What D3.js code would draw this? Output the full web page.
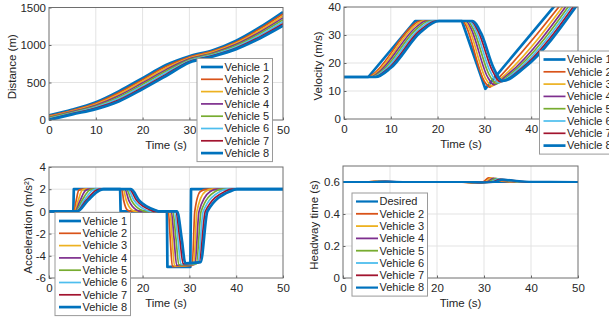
<!DOCTYPE html>
<html>
<head>
<meta charset="utf-8">
<script src="https://cdn.jsdelivr.net/npm/d3@7"></script>
<style>
  body { margin: 0; background: #fff; }
  text { font-family: "Liberation Sans", Arial, sans-serif; fill: #262626; }
</style>
</head>
<body>
<div id="root"></div>
<script>
// Colores por defecto de MATLAB (el 8º vuelve al azul)
const colors = ["#0072BD", "#D95319", "#EDB120", "#7E2F8E", "#77AC30", "#4DBEEE", "#A2142F", "#0072BD"];
const vehicleNames = ["Vehicle 1", "Vehicle 2", "Vehicle 3", "Vehicle 4", "Vehicle 5", "Vehicle 6", "Vehicle 7", "Vehicle 8"];
const headwayNames = ["Desired", "Vehicle 2", "Vehicle 3", "Vehicle 4", "Vehicle 5", "Vehicle 6", "Vehicle 7", "Vehicle 8"];

const timeTicks = [0, 10, 20, 30, 40, 50];
const distTicks = [0, 500, 1000, 1500];
const velTicks = [0, 10, 20, 30, 40];
const accTicks = [-6, -4, -2, 0, 2, 4];
const headTicks = [0, 0.2, 0.4, 0.6];

// Distancia (m), muestreada cada 5 s
const distTime = [0, 5, 10, 15, 20, 25, 30, 35, 40, 45, 50];
const distance = [
  [63, 138, 236, 384, 559, 734, 851, 930, 1057, 1234, 1440],
  [54, 129, 223, 365, 538, 713, 839, 918, 1041, 1213, 1414],
  [45, 120, 210, 346, 517, 692, 827, 906, 1025, 1192, 1388],
  [36, 111, 197, 327, 496, 671, 815, 894, 1009, 1171, 1362],
  [27, 102, 184, 308, 475, 650, 803, 882, 993, 1150, 1336],
  [18, 93, 171, 289, 454, 629, 791, 870, 977, 1129, 1310],
  [9, 84, 158, 270, 433, 608, 779, 858, 961, 1108, 1284],
  [0, 75, 145, 251, 412, 587, 767, 846, 945, 1087, 1258]
];

// Velocidad (m/s): pares [t, v] por vehículo
const velocity = [
  [[0,15],[5.2,15],[15.2,35],[25.2,35],[30.2,10.8],[50,50.4]],
  [[0,15],[5.25,15],[6.05,15.8],[15.2,34.1],[16.1,35],[25.43,35],[25.87,33.91],[30.02,13.38],[31.15,11.4],[32.35,13.44],[50,48.74]],
  [[0,15],[5.5,15],[6.7,16.2],[15.4,33.6],[16.8,35],[25.76,35],[26.44,33.33],[30.33,14.25],[31.6,11.8],[33.4,14.28],[50,47.48]],
  [[0,15],[5.75,15],[7.35,16.6],[15.6,33.1],[17.5,35],[26.09,35],[27.01,32.77],[30.65,15.11],[32.05,12.2],[34.45,15.12],[50,46.22]],
  [[0,15],[6.0,15],[8.0,17],[15.8,32.6],[18.2,35],[26.42,35],[27.58,32.22],[30.97,15.96],[32.5,12.6],[35.5,15.96],[50,44.96]],
  [[0,15],[6.25,15],[8.65,17.4],[16.0,32.1],[18.9,35],[26.75,35],[28.15,31.68],[31.28,16.8],[32.95,13.0],[36.55,16.8],[50,43.7]],
  [[0,15],[6.5,15],[9.3,17.8],[16.2,31.6],[19.6,35],[27.08,35],[28.72,31.15],[31.62,17.53],[33.4,13.3],[37.6,17.64],[50,42.44]],
  [[0,15],[6.75,15],[9.95,18.2],[16.4,31.1],[20.3,35],[27.41,35],[29.29,30.63],[31.95,18.25],[33.85,13.6],[38.65,18.48],[50,41.18]]
];

// Aceleración (m/s²): pares [t, a]
const acceleration = [
  [[0,0],[5.2,0],[5.3,2],[15.2,2],[15.3,0],[25.2,0],[25.3,-5],[30.2,-5],[30.35,2],[50,2]],
  [[0,0],[5.32,0],[5.82,1],[6.35,1.9],[7.15,2],[15.53,2],[15.95,1],[16.8,0.1],[17.6,0],[25.51,0],[25.91,-2.5],[26.36,-4.97],[30.6,-4.87],[31.15,0],[32.35,1.8],[33.85,2],[50,2]],
  [[0,0],[5.44,0],[6.24,1],[7.1,1.9],[7.9,2],[15.86,2],[16.5,1],[17.8,0.1],[18.6,0],[25.82,0],[26.32,-2.5],[26.82,-4.92],[30.9,-4.82],[31.6,0],[33.4,1.8],[34.9,2],[50,2]],
  [[0,0],[5.56,0],[6.66,1],[7.85,1.9],[8.65,2],[16.19,2],[17.05,1],[18.8,0.1],[19.6,0],[26.13,0],[26.73,-2.5],[27.28,-4.87],[31.2,-4.77],[32.05,0],[34.45,1.8],[35.95,2],[50,2]],
  [[0,0],[5.68,0],[7.08,1],[8.6,1.9],[9.4,2],[16.52,2],[17.6,1],[19.8,0.1],[20.6,0],[26.44,0],[27.14,-2.5],[27.74,-4.82],[31.5,-4.72],[32.5,0],[35.5,1.8],[37,2],[50,2]],
  [[0,0],[5.8,0],[7.5,1],[9.35,1.9],[10.15,2],[16.85,2],[18.15,1],[20.8,0.1],[21.6,0],[26.75,0],[27.55,-2.5],[28.2,-4.77],[31.8,-4.67],[32.95,0],[36.55,1.8],[38.05,2],[50,2]],
  [[0,0],[5.92,0],[7.92,1],[10.1,1.9],[10.9,2],[17.18,2],[18.7,1],[21.8,0.1],[22.6,0],[27.06,0],[27.96,-2.5],[28.66,-4.72],[32.1,-4.62],[33.4,0],[37.6,1.8],[39.1,2],[50,2]],
  [[0,0],[6.04,0],[8.34,1],[10.85,1.9],[11.65,2],[17.51,2],[19.25,1],[22.8,0.1],[23.6,0],[27.37,0],[28.37,-2.5],[29.12,-4.67],[32.4,-4.57],[33.85,0],[38.65,1.8],[40.15,2],[50,2]]
];

// Tiempo de separación (s): deseado + vehículos 2..8
const headway = [
  [[0,0.6],[50,0.6]],
  [[0,.6],[5.3,.6],[6.5,.604],[8.5,.6],[25.3,.6],[27.2,.595],[29.8,.6],[31,.626],[32.8,.61],[36,.601],[50,.6]],
  [[0,.6],[5.6,.6],[7,.604],[9.2,.6],[25.6,.6],[27.6,.595],[30.2,.6],[31.5,.624],[33.4,.61],[36.6,.601],[50,.6]],
  [[0,.6],[5.9,.6],[7.5,.604],[9.9,.6],[25.9,.6],[28,.596],[30.6,.6],[32,.623],[34,.611],[37.2,.601],[50,.6]],
  [[0,.6],[6.2,.6],[8,.603],[10.6,.6],[26.2,.6],[28.4,.596],[31,.6],[32.5,.621],[34.6,.611],[37.8,.601],[50,.6]],
  [[0,.6],[6.5,.6],[8.5,.603],[11.3,.6],[26.5,.6],[28.8,.597],[31.4,.6],[33,.619],[35.2,.611],[38.4,.601],[50,.6]],
  [[0,.6],[6.8,.6],[9,.603],[12,.6],[26.8,.6],[29.2,.597],[31.8,.6],[33.5,.617],[35.8,.61],[39,.601],[50,.6]],
  [[0,.6],[7.1,.6],[9.5,.602],[12.7,.6],[27.1,.6],[29.6,.598],[32.2,.6],[34,.615],[36.4,.609],[39.6,.601],[50,.6]]
];

const width = 609;
const height = 320;

const svg = d3.select("#root")
  .append("svg")
    .attr("width", width)
    .attr("height", height);

const panels = [
  { id: "dist", left: 49, right: 283, top: 7.5, bottom: 120, yDomain: [0, 1500], yTicks: distTicks,
    ylabel: "Distance (m)", ylabelX: 12, names: vehicleNames,
    series: distance.map(vals => vals.map((v, i) => [distTime[i], v])),
    legend: { x: 197, y: 58.5 } },
  { id: "vel", left: 344, right: 578, top: 7, bottom: 119, yDomain: [0, 40], yTicks: velTicks,
    ylabel: "Velocity (m/s)", ylabelX: 318, names: vehicleNames, series: velocity,
    legend: { x: 539.5, y: 51 } },
  { id: "acc", left: 49, right: 283, top: 167, bottom: 278, yDomain: [-6, 4], yTicks: accTicks,
    ylabel: "Acceleration (m/s²)", ylabelX: 28, names: vehicleNames, series: acceleration,
    legend: { x: 55, y: 212.5 } },
  { id: "head", left: 343, right: 578, top: 166, bottom: 278, yDomain: [0, 0.7], yTicks: headTicks,
    ylabel: "Headway time (s)", ylabelX: 314, names: headwayNames, series: headway,
    legend: { x: 352, y: 193 } }
];

panels.forEach(drawPanel);

function drawPanel(p) {
  const x = d3.scaleLinear().domain([0, 50]).range([p.left, p.right]);
  const y = d3.scaleLinear().domain(p.yDomain).range([p.bottom, p.top]);
  const g = svg.append("g");

  // rejilla
  g.append("g").selectAll("line")
    .data(timeTicks.slice(1, -1))
    .join("line")
      .attr("x1", d => x(d)).attr("x2", d => x(d))
      .attr("y1", p.top).attr("y2", p.bottom)
      .attr("stroke", "#e3e3e3");
  g.append("g").selectAll("line")
    .data(p.yTicks.filter(d => y(d) < p.bottom - 1 && y(d) > p.top + 1))
    .join("line")
      .attr("x1", p.left).attr("x2", p.right)
      .attr("y1", d => y(d)).attr("y2", d => y(d))
      .attr("stroke", "#e3e3e3");

  // ejes
  const xAxis = g.append("g")
    .attr("transform", `translate(0, ${p.bottom})`)
    .call(d3.axisBottom(x).tickValues(timeTicks).tickFormat(d => d).tickSizeInner(-2.5).tickSizeOuter(0).tickPadding(5.5));
  const yAxis = g.append("g")
    .attr("transform", `translate(${p.left}, 0)`)
    .call(d3.axisLeft(y).tickValues(p.yTicks).tickFormat(d => d).tickSizeInner(-2.5).tickSizeOuter(0).tickPadding(3));
  [xAxis, yAxis].forEach(a => {
    a.select(".domain").remove();
    a.selectAll(".tick line").attr("stroke", "#666");
    a.selectAll("text")
      .style("font-size", "11.5px")
      .style("font-family", "'Liberation Sans', Arial, sans-serif")
      .attr("fill", "#262626");
  });

  // líneas de datos
  const clipId = "clip-" + p.id;
  g.append("clipPath").attr("id", clipId)
    .append("rect")
      .attr("x", p.left).attr("y", p.top)
      .attr("width", p.right - p.left).attr("height", p.bottom - p.top);

  const lineCreator = (i) => d3.line()
    .x(d => x(d[0]))
    .y(d => y(d[1]))
    .curve(i === 0 && p.id !== "dist" ? d3.curveLinear : d3.curveMonotoneX);

  const lineWidth = (i) => (p.id === "head" ? (i === 0 || i === 7 ? 2.2 : 1.8) : (i === 0 || i === 7 ? 2.7 : 1.7));

  g.append("g")
    .attr("clip-path", `url(#${clipId})`)
    .selectAll("path")
    .data(p.series)
    .join("path")
      .attr("d", (d, i) => lineCreator(i)(d))
      .attr("fill", "none")
      .attr("stroke", (d, i) => colors[i])
      .attr("stroke-width", (d, i) => lineWidth(i))
      .attr("stroke-linejoin", "round");

  // marco
  g.append("rect")
    .attr("x", p.left).attr("y", p.top)
    .attr("width", p.right - p.left).attr("height", p.bottom - p.top)
    .attr("fill", "none")
    .attr("stroke", "#6e6e6e")
    .attr("stroke-width", 1);

  // títulos de ejes
  g.append("text")
    .text("Time (s)")
    .attr("x", (p.left + p.right) / 2)
    .attr("y", p.bottom + 29)
    .attr("text-anchor", "middle")
    .style("font-size", "11.5px");
  g.append("text")
    .text(p.ylabel)
    .attr("transform", `translate(${p.ylabelX}, ${(p.top + p.bottom) / 2 + 3})rotate(-90)`)
    .attr("text-anchor", "middle")
    .attr("dy", "0.35em")
    .style("font-size", "11.5px");

  // leyenda
  const rowH = 12.3;
  const lg = svg.append("g").attr("transform", `translate(${p.legend.x}, ${p.legend.y})`);
  lg.append("rect")
    .attr("width", 75.5)
    .attr("height", 8.5 * 2 + rowH * 7)
    .attr("fill", "#fff")
    .attr("stroke", "#9a9a9a")
    .attr("stroke-width", 1);
  const rows = lg.selectAll("g.row")
    .data(p.names)
    .join("g")
      .attr("class", "row")
      .attr("transform", (d, i) => `translate(0, ${8.5 + i * rowH})`);
  rows.append("line")
    .attr("x1", 4).attr("x2", 26)
    .attr("stroke", (d, i) => colors[i])
    .attr("stroke-width", (d, i) => lineWidth(i));
  rows.append("text")
    .text(d => d)
    .attr("x", 27.5)
    .attr("dy", "0.35em")
    .style("font-size", "11px");
}
</script>
</body>
</html>
